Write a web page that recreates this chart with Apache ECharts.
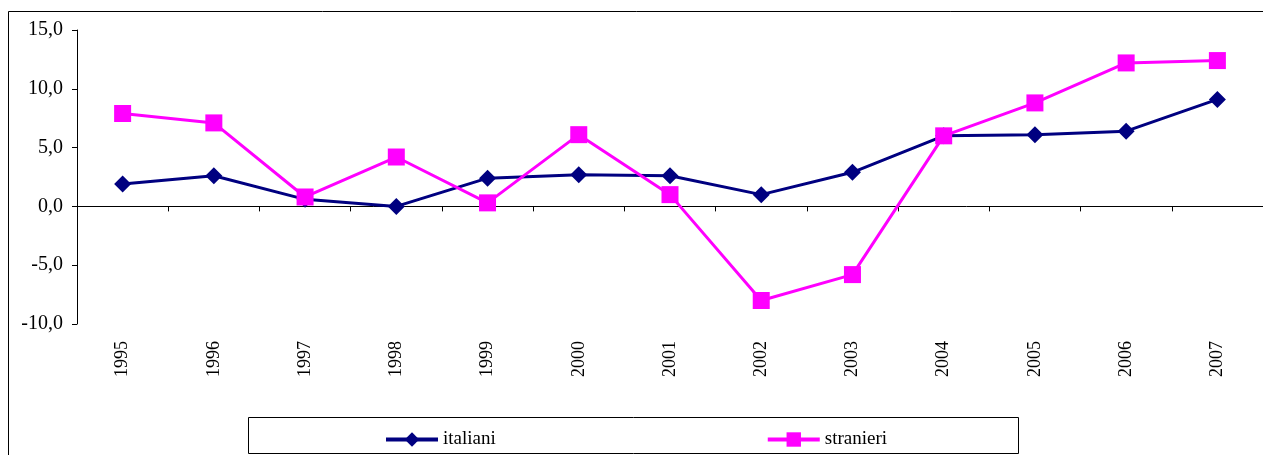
<!DOCTYPE html>
<html>
<head>
<meta charset="utf-8">
<script src="https://cdn.jsdelivr.net/npm/echarts@6/dist/echarts.min.js"></script>
<style>
  html, body { margin: 0; padding: 0; background: #fff; }
  #chart { width: 1263px; height: 455px; }
</style>
</head>
<body>
<div id="chart"></div>
<script>
const years = ['1995', '1996', '1997', '1998', '1999', '2000', '2001', '2002', '2003', '2004', '2005', '2006', '2007'];
const italiani = [1.9, 2.6, 0.6, 0.0, 2.4, 2.7, 2.6, 1.0, 2.9, 6.0, 6.1, 6.4, 9.1];
const stranieri = [7.9, 7.1, 0.8, 4.2, 0.3, 6.1, 1.0, -8.0, -5.8, 6.0, 8.8, 12.2, 12.4];
const yTicks = { min: -10, max: 15, step: 5 };

const font = 'Liberation Serif, Times New Roman, serif';
const chart = echarts.init(document.getElementById('chart'));

// formatta con la virgola decimale
const fmt = v => v.toFixed(1).replace('.', ',');

chart.setOption({
  animation: false,
  textStyle: { fontFamily: font },
  graphic: [
    {
      type: 'rect', silent: true, z: -1,
      shape: { x: 8.5, y: 11.5, width: 1300, height: 500 },
      style: { fill: '#fff', stroke: '#000', lineWidth: 1 }
    },
    {
      type: 'rect', silent: true, z: -1,
      shape: { x: 248.5, y: 417.5, width: 770, height: 36 },
      style: { fill: '#fff', stroke: '#000', lineWidth: 1 }
    }
  ],
  grid: { left: 77, right: -10, top: 30, bottom: 131, containLabel: false },
  legend: {
    left: 379, top: 425,
    itemWidth: 52, itemHeight: 18, itemGap: 270,
    lineStyle: { width: 4 },
    textStyle: { fontFamily: font, fontSize: 19, color: '#000' },
    data: ['italiani', 'stranieri']
  },
  xAxis: [
    {
      type: 'category', data: years, boundaryGap: true,
      axisLine: { onZero: true, lineStyle: { color: '#000', width: 1 } },
      axisTick: { show: true, length: 5, lineStyle: { color: '#000' } },
      axisLabel: { show: false },
      splitLine: { show: false }
    },
    {
      type: 'category', data: years, boundaryGap: true, position: 'bottom',
      axisLine: { show: false, onZero: false },
      axisTick: { show: false },
      axisLabel: { rotate: 90, margin: 17, fontSize: 18, color: '#000', fontFamily: font },
      splitLine: { show: false }
    }
  ],
  yAxis: {
    type: 'value', min: yTicks.min, max: yTicks.max, interval: yTicks.step,
    axisLine: { show: true, lineStyle: { color: '#000', width: 1 } },
    axisTick: { show: true, length: 5, lineStyle: { color: '#000' } },
    axisLabel: { fontSize: 20, color: '#000', margin: 14, fontFamily: font, formatter: fmt },
    splitLine: { show: false }
  },
  series: [
    {
      name: 'italiani', type: 'line', data: italiani,
      symbol: 'diamond', symbolSize: 17,
      itemStyle: { color: '#000080' },
      lineStyle: { color: '#000080', width: 3 }
    },
    {
      name: 'stranieri', type: 'line', data: stranieri,
      symbol: 'rect', symbolSize: 17,
      itemStyle: { color: '#ff00ff' },
      lineStyle: { color: '#ff00ff', width: 3 }
    }
  ]
});
</script>
</body>
</html>
